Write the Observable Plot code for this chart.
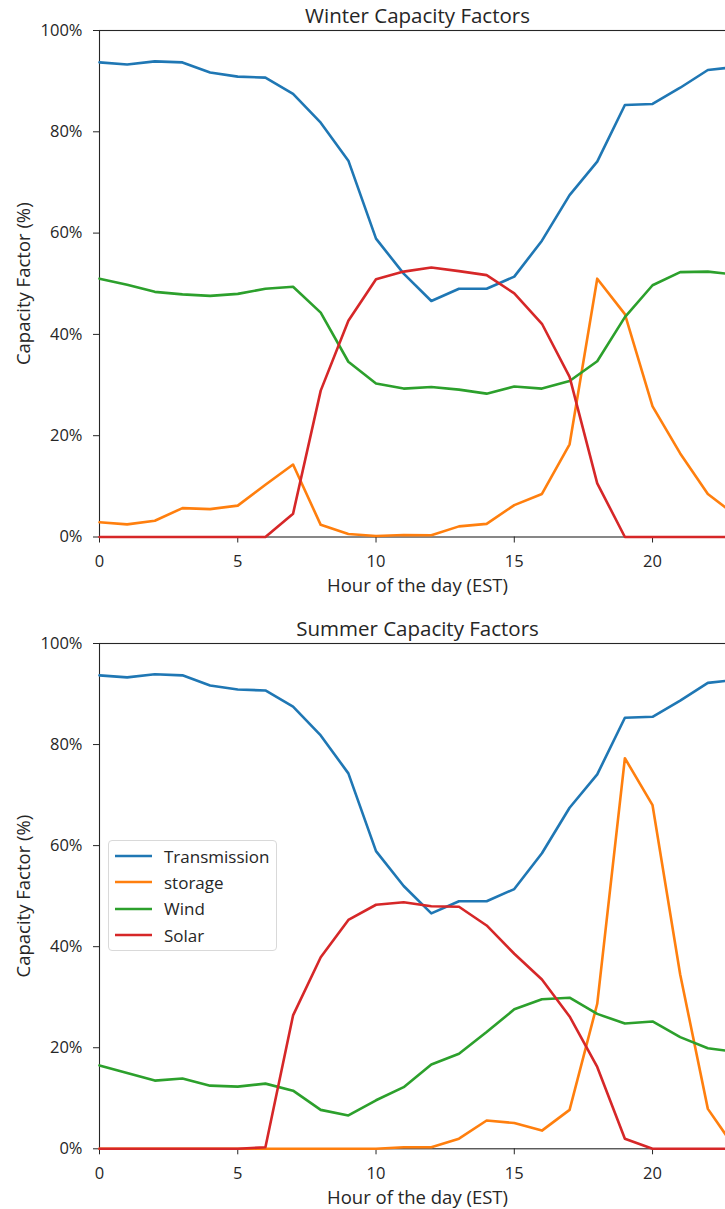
<!DOCTYPE html>
<html>
<head>
<meta charset="utf-8">
<script src="https://cdn.jsdelivr.net/npm/d3@7"></script>
<script src="https://cdn.jsdelivr.net/npm/@observablehq/plot@0.6"></script>
<style>
  html, body { margin: 0; padding: 0; background: #fff; overflow: hidden; }
  #root { position: relative; width: 725px; height: 1209px; overflow: hidden; font-family: "Open Sans", sans-serif; }
  .panel { position: absolute; left: 0; max-width: none !important; }
  .legend { position: absolute; left: 108px; top: 840px; width: 169px; height: 111px; box-sizing: border-box;
            border: 1px solid #d9d9d9; border-radius: 4px; background: rgba(255,255,255,0.85);
            font-size: 17px; color: #262626; }
  .legend .row { position: absolute; left: 0; height: 24px; display: flex; align-items: center; white-space: nowrap; }
  .legend svg { display: block; }
</style>
</head>
<body>
<div id="root"></div>
<script>
// Hour of the day (EST)
const hours = [0, 1, 2, 3, 4, 5, 6, 7, 8, 9, 10, 11, 12, 13, 14, 15, 16, 17, 18, 19, 20, 21, 22, 23];

// Series names and their colours
const seriesNames = ["Transmission", "storage", "Wind", "Solar"];
const seriesColors = ["#1f77b4", "#ff7f0e", "#2ca02c", "#d62728"];

// Winter capacity factors (%)
const winterTransmission = [93.7, 93.3, 93.9, 93.7, 91.7, 90.9, 90.7, 87.5, 81.8, 74.3, 58.9, 52.0, 46.6, 49.0, 49.0, 51.4, 58.5, 67.5, 74.1, 85.3, 85.5, 88.7, 92.2, 92.8];
const winterStorage      = [2.9, 2.5, 3.2, 5.7, 5.5, 6.2, 10.3, 14.3, 2.4, 0.6, 0.2, 0.4, 0.35, 2.1, 2.6, 6.3, 8.5, 18.3, 51.0, 44.0, 25.8, 16.5, 8.5, 4.3];
const winterWind         = [51.0, 49.8, 48.4, 47.9, 47.6, 48.0, 49.0, 49.4, 44.3, 34.6, 30.3, 29.3, 29.6, 29.1, 28.3, 29.7, 29.3, 30.8, 34.7, 43.4, 49.7, 52.3, 52.4, 51.8];
const winterSolar        = [0, 0, 0, 0, 0, 0, 0, 4.6, 28.9, 42.7, 50.9, 52.4, 53.2, 52.5, 51.7, 48.1, 42.1, 31.6, 10.6, 0, 0, 0, 0, 0];

// Summer capacity factors (%)
const summerTransmission = [93.7, 93.3, 93.9, 93.7, 91.7, 90.9, 90.7, 87.5, 81.8, 74.3, 58.9, 52.0, 46.6, 49.0, 49.0, 51.4, 58.5, 67.5, 74.1, 85.3, 85.5, 88.7, 92.2, 92.8];
const summerStorage      = [0, 0, 0, 0, 0, 0, 0, 0, 0, 0, 0, 0.3, 0.3, 2.0, 5.6, 5.1, 3.6, 7.7, 28.7, 77.3, 68.0, 34.5, 7.9, 0];
const summerWind         = [16.5, 15.0, 13.5, 13.9, 12.5, 12.3, 12.9, 11.5, 7.7, 6.6, 9.6, 12.2, 16.7, 18.8, 23.1, 27.6, 29.6, 29.9, 26.7, 24.8, 25.2, 22.1, 19.9, 19.2];
const summerSolar        = [0, 0, 0, 0, 0, 0, 0.3, 26.4, 37.9, 45.3, 48.3, 48.8, 48.0, 47.9, 44.2, 38.6, 33.5, 26.2, 16.2, 2.0, 0, 0, 0, 0];

// Axis ticks
const xTicks = [0, 5, 10, 15, 20];
const yTicks = [0, 20, 40, 60, 80, 100];

// Long-format rows for a season
function toRows(seriesValues) {
  const rows = [];
  seriesNames.forEach((name, i) => {
    seriesValues[i].forEach((v, j) => rows.push({series: name, hour: hours[j], value: v}));
  });
  return rows;
}

const winterRows = toRows([winterTransmission, winterStorage, winterWind, winterSolar]);
const summerRows = toRows([summerTransmission, summerStorage, summerWind, summerSolar]);

function panel(title, rows, height, marginBottom) {
  return Plot.plot({
    width: 760,
    height,
    marginTop: 30,
    marginLeft: 99,
    marginRight: 25,
    marginBottom,
    style: {fontFamily: "Open Sans", fontSize: "16.5px", color: "#262626", background: "white", overflow: "visible", maxWidth: "none"},
    x: {domain: [0, 23], ticks: xTicks, tickSize: 6, tickPadding: 12.5, label: null},
    y: {domain: [0, 100], ticks: yTicks, tickFormat: d => d + "%", tickSize: 6, tickPadding: 11, label: null},
    color: {domain: seriesNames, range: seriesColors},
    marks: [
      Plot.frame({stroke: "#262626", strokeWidth: 1.1}),
      Plot.line(rows, {x: "hour", y: "value", z: "series", stroke: "series", strokeWidth: 2.6}),
      Plot.text([title], {text: d => d, frameAnchor: "top", lineAnchor: "middle", textAnchor: "middle", dy: -13.7, fontSize: 20.5}),
      Plot.text(["Hour of the day (EST)"], {text: d => d, frameAnchor: "bottom", lineAnchor: "middle", textAnchor: "middle", dy: 49.5, fontSize: 18.5}),
      Plot.text(["Capacity Factor (%)"], {text: d => d, frameAnchor: "left", lineAnchor: "middle", textAnchor: "middle", rotate: -90, dx: -75, fontSize: 18.5})
    ]
  });
}

const root = document.getElementById("root");

const winterChart = panel("Winter Capacity Factors", winterRows, 613, 76.5);
winterChart.classList.add("panel");
winterChart.style.top = "0px";
root.appendChild(winterChart);

const summerChart = panel("Summer Capacity Factors", summerRows, 596, 60.7);
summerChart.classList.add("panel");
summerChart.style.top = "613px";
root.appendChild(summerChart);

// Legend for the summer panel
const legend = document.createElement("div");
legend.className = "legend";
seriesNames.forEach((name, i) => {
  const row = document.createElement("div");
  row.className = "row";
  row.style.top = (15 - 12 + i * 26.4) + "px";
  const sw = d3.create("svg").attr("width", 55).attr("height", 24);
  sw.append("line").attr("x1", 6).attr("x2", 43).attr("y1", 12).attr("y2", 12)
    .attr("stroke", seriesColors[i]).attr("stroke-width", 2.6);
  row.appendChild(sw.node());
  const label = document.createElement("span");
  label.textContent = name;
  row.appendChild(label);
  legend.appendChild(row);
});
root.appendChild(legend);
</script>
</body>
</html>
